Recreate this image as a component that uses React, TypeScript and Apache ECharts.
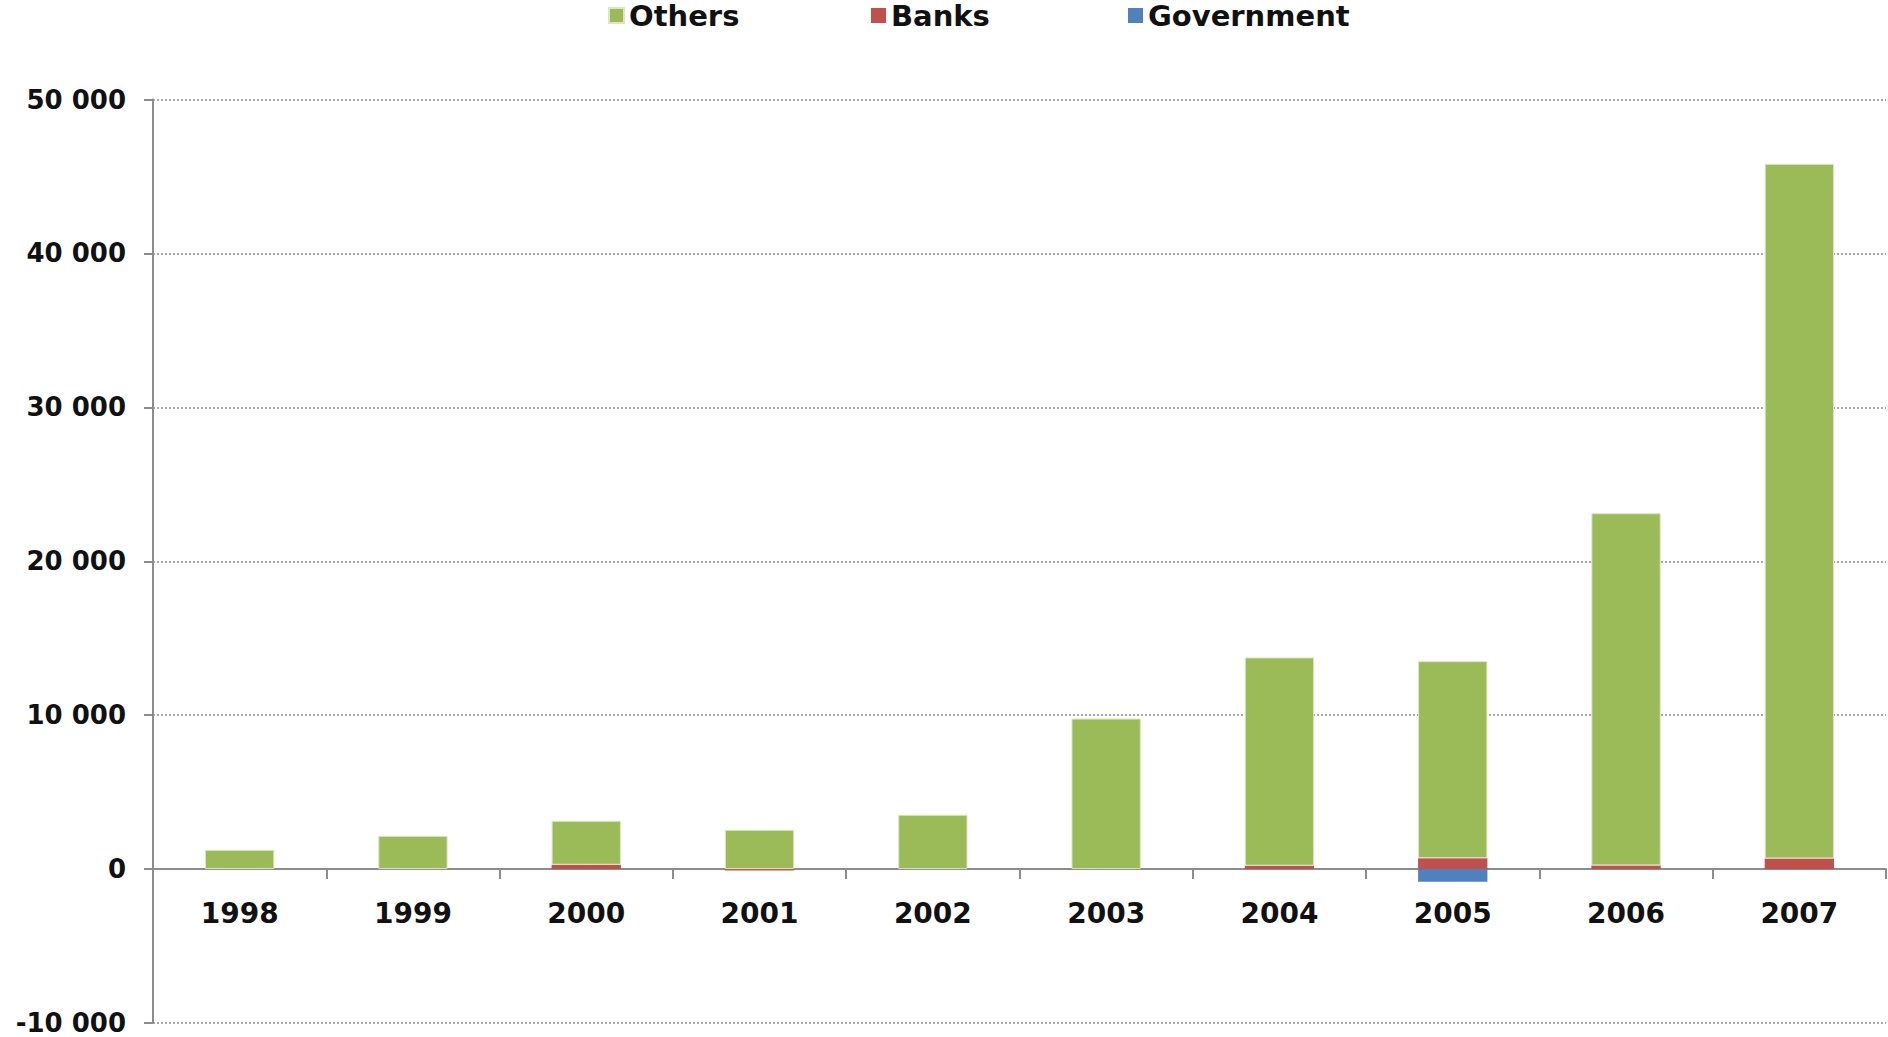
import React, { useEffect, useRef } from "react";
import * as echarts from "echarts";

const categories = ["1998", "1999", "2000", "2001", "2002", "2003", "2004", "2005", "2006", "2007"];
const othersValues = [1250, 2160, 2860, 2550, 3530, 9780, 13530, 12800, 22880, 45130];
const banksValues = [0, 0, 280, -100, 0, 0, 220, 710, 240, 690];
const governmentValues = [0, 0, 0, 0, 0, 0, 0, -820, 0, 0];
const yTicks = [-10000, 0, 10000, 20000, 30000, 40000, 50000];

const FONT = "DejaVu Sans";
const GRID_TOP = 99.5;
const GRID_BOTTOM = 14;
const CHART_H = 1037;

function fmt(v: number): string {
  const s = Math.abs(v).toString().replace(/\B(?=(\d{3})+(?!\d))/g, " ");
  return (v < 0 ? "-" : "") + s;
}

export default function App() {
  const ref = useRef<HTMLDivElement>(null);
  useEffect(() => {
    if (!ref.current) return;
    const chart = echarts.init(ref.current, undefined, { renderer: "svg" });
    const legendText = { fontFamily: FONT, fontWeight: "bold" as const, fontSize: 29, color: "#111" };
    const mkLegend = (name: string, left: number) => ({
      data: [name],
      left,
      top: 1,
      padding: 0,
      icon: "rect",
      itemWidth: 15,
      itemHeight: 15,
      itemGap: 0,
      textStyle: legendText,
    });
    const yMin = yTicks[0];
    const yMax = yTicks[yTicks.length - 1];
    const plotH = CHART_H - GRID_TOP - GRID_BOTTOM;
    const zeroOffset = -((0 - yMin) / (yMax - yMin)) * plotH;
    chart.setOption({
      animation: false,
      backgroundColor: "#ffffff",
      legend: [mkLegend("Others", 608), mkLegend("Banks", 871), mkLegend("Government", 1128)],
      grid: { left: 153, right: 2, top: GRID_TOP, bottom: GRID_BOTTOM, containLabel: false, outerBoundsMode: "none" },
      xAxis: {
        type: "category",
        data: categories,
        boundaryGap: true,
        offset: zeroOffset,
        axisLine: { onZero: false, lineStyle: { color: "#8c8c8c", width: 2 } },
        axisTick: { show: true, alignWithLabel: false, length: 10, inside: false, lineStyle: { color: "#8c8c8c", width: 2 } },
        axisLabel: { interval: 0, margin: 30, fontFamily: FONT, fontWeight: "bold", fontSize: 28, color: "#111" },
        splitLine: { show: false },
      },
      yAxis: {
        type: "value",
        min: yMin,
        max: yMax,
        interval: 10000,
        axisLine: { show: true, lineStyle: { color: "#8c8c8c", width: 2 } },
        axisTick: { show: true, length: 9, lineStyle: { color: "#8c8c8c", width: 2 } },
        axisLabel: { margin: 27, fontFamily: FONT, fontWeight: "bold", fontSize: 26, color: "#111", formatter: (v: number) => fmt(v) },
        splitLine: { show: true, lineStyle: { color: "#8c8c8c", type: [2, 2], width: 1.5 } },
      },
      series: [
        {
          name: "Banks",
          type: "bar",
          stack: "total",
          data: banksValues,
          barWidth: "40%",
          itemStyle: { color: "#C0504D" },
        },
        {
          name: "Others",
          type: "bar",
          stack: "total",
          data: othersValues,
          barWidth: "40%",
          itemStyle: { color: "#9BBB59", borderColor: "#dbe7c4", borderWidth: 1 },
        },
        {
          name: "Government",
          type: "bar",
          stack: "total",
          data: governmentValues,
          barWidth: "40%",
          itemStyle: { color: "#4F81BD" },
        },
      ],
    });
    return () => chart.dispose();
  }, []);
  return (
    <div
      ref={ref}
      style={{ position: "fixed", left: 0, top: 0, width: 1888, height: 1037, background: "#fff" }}
    />
  );
}
